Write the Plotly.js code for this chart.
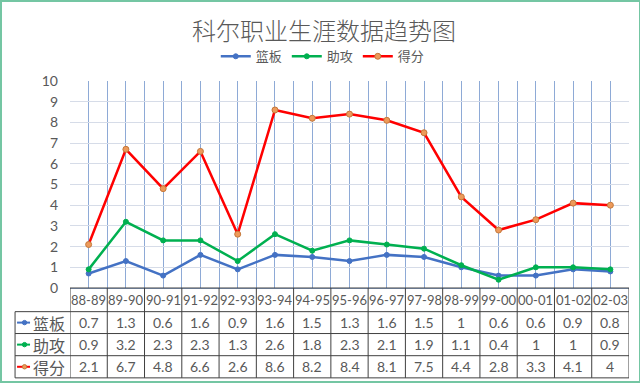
<!DOCTYPE html>
<html>
<head>
<meta charset="utf-8">
<script src="https://cdn.plot.ly/plotly-3.0.1.min.js"></script>
<style>
html,body{margin:0;padding:0;background:#fff;}
#wrap{position:relative;width:640px;height:384px;}
#chart{position:absolute;left:0;top:0;width:640px;height:384px;}
#frame{position:absolute;left:0;top:0;width:641px;height:383px;box-sizing:border-box;border:2px solid #74c6a3;pointer-events:none;}
</style>
</head>
<body>
<div id="wrap"><div id="chart"></div><div id="frame"></div></div>
<script>
const categories = ['88-89','89-90','90-91','91-92','92-93','93-94','94-95','95-96','96-97','97-98','98-99','99-00','00-01','01-02','02-03'];
const rebounds = [0.7,1.3,0.6,1.6,0.9,1.6,1.5,1.3,1.6,1.5,1,0.6,0.6,0.9,0.8];
const assists  = [0.9,3.2,2.3,2.3,1.3,2.6,1.8,2.3,2.1,1.9,1.1,0.4,1,1,0.9];
const points   = [2.1,6.7,4.8,6.6,2.6,8.6,8.2,8.4,8.1,7.5,4.4,2.8,3.3,4.1,4];
const seriesNames = ['篮板','助攻','得分'];
const yTicks = [0,1,2,3,4,5,6,7,8,9,10];

const seriesData = [rebounds, assists, points];
const lineColors = ['#4472c4','#00b050','#ff0000'];
const markerFill = ['#4472c4','#00b050','#ed9a5a'];
const markerLine = ['#4472c4','#00b050','#c4783a'];

const W = 640, H = 384;
const plotL = 70, plotR = 629.5, plotT = 80.7, plotB = 288;
const px2x = p => (p - plotL) / (plotR - plotL);
const py2y = p => (plotB - p) / (plotB - plotT);

const xIdx = categories.map((c, i) => i);
const txtFont = 'Lato, "Noto Sans CJK SC", sans-serif';
const cjkFont = '"Noto Sans CJK SC", sans-serif';
const gray = '#595959';

const traces = seriesData.map((vals, s) => ({
  type: 'scatter', mode: 'lines+markers', name: seriesNames[s],
  x: xIdx, y: vals,
  line: {color: lineColors[s], width: 2.5},
  marker: {symbol: 'circle', size: s === 2 ? 6 : 5, color: markerFill[s], line: {color: markerLine[s], width: 1}},
  hoverinfo: 'skip'
}));

// Table geometry (pixel rows)
const rowEdges = [288, 311.7, 333.6, 355.8, 378];
const tableLeft = 15;
const shapes = [];
const annotations = [];
const lineC = '#404040';

// vertical lines at category boundaries
for (let i = 0; i <= categories.length; i++) {
  shapes.push({type: 'line', xref: 'x', yref: 'paper', x0: i - 0.5, x1: i - 0.5,
    y0: py2y(rowEdges[0]), y1: py2y(rowEdges[4]), line: {color: lineC, width: 1}});
}
// left border of row-label column
shapes.push({type: 'line', xref: 'paper', yref: 'paper', x0: px2x(tableLeft), x1: px2x(tableLeft),
  y0: py2y(rowEdges[1]), y1: py2y(rowEdges[4]), line: {color: lineC, width: 1}});
// horizontal lines
shapes.push({type: 'line', xref: 'paper', yref: 'paper', x0: 0, x1: 1,
  y0: py2y(rowEdges[0]), y1: py2y(rowEdges[0]), line: {color: lineC, width: 1}});
for (let r = 1; r < rowEdges.length; r++) {
  shapes.push({type: 'line', xref: 'paper', yref: 'paper', x0: px2x(tableLeft), x1: 1,
    y0: py2y(rowEdges[r]), y1: py2y(rowEdges[r]), line: {color: lineC, width: 1}});
}

// header labels
categories.forEach((c, i) => {
  annotations.push({xref: 'x', yref: 'paper', x: i, y: py2y((rowEdges[0] + rowEdges[1]) / 2),
    text: c, showarrow: false, font: {family: txtFont, size: 13, color: gray}, xanchor: 'center', yanchor: 'middle'});
});
// value rows
seriesData.forEach((vals, s) => {
  const cy = py2y((rowEdges[s + 1] + rowEdges[s + 2]) / 2);
  vals.forEach((v, i) => {
    annotations.push({xref: 'x', yref: 'paper', x: i, y: cy, text: String(v), showarrow: false,
      font: {family: txtFont, size: 14, color: gray}, xanchor: 'center', yanchor: 'middle'});
  });
  // legend key in table
  shapes.push({type: 'line', xref: 'paper', yref: 'paper', x0: px2x(17), x1: px2x(30), y0: cy, y1: cy,
    line: {color: lineColors[s], width: 2}});
  const r = 2.2, mx = 24.5, my = (rowEdges[s + 1] + rowEdges[s + 2]) / 2;
  shapes.push({type: 'circle', xref: 'paper', yref: 'paper', x0: px2x(mx - r), x1: px2x(mx + r),
    y0: py2y(my + r), y1: py2y(my - r), fillcolor: markerFill[s], line: {color: markerLine[s], width: 1}});
  annotations.push({xref: 'paper', yref: 'paper', x: px2x(49), y: cy, text: seriesNames[s], showarrow: false,
    font: {family: cjkFont, size: 16, color: gray}, xanchor: 'center', yanchor: 'middle'});
});

const layout = {
  width: W, height: H,
  margin: {l: plotL, r: W - plotR, t: plotT, b: H - plotB, pad: 0},
  paper_bgcolor: '#ffffff', plot_bgcolor: '#ffffff',
  title: {text: '科尔职业生涯数据趋势图', font: {family: cjkFont, size: 24, color: gray, weight: 300},
    xref: 'container', x: 324 / W, xanchor: 'center', yref: 'container', y: 1 - 32 / H, yanchor: 'middle'},
  showlegend: true,
  legend: {orientation: 'h', x: px2x(323), xanchor: 'center', y: py2y(56), yanchor: 'middle',
    font: {family: cjkFont, size: 13, color: gray}, itemwidth: 30, tracegroupgap: 0, bgcolor: 'rgba(0,0,0,0)'},
  xaxis: {range: [-0.5, categories.length - 0.5], tick0: -0.5, dtick: 0.5, showticklabels: false,
    showgrid: true, gridcolor: '#8eaad6', gridwidth: 1, zeroline: false, ticks: '',
    showline: true, linecolor: '#8eaad6', mirror: false, fixedrange: true},
  yaxis: {range: [0, 10], tickvals: yTicks, ticktext: yTicks.map(String), showgrid: true, gridcolor: '#d6dce8',
    gridwidth: 1, zeroline: false, ticks: '', ticklabelstandoff: 11,
    tickfont: {family: txtFont, size: 14, color: gray}, fixedrange: true},
  shapes: shapes,
  annotations: annotations
};

Plotly.newPlot('chart', traces, layout, {displayModeBar: false, staticPlot: true});
</script>
</body>
</html>
